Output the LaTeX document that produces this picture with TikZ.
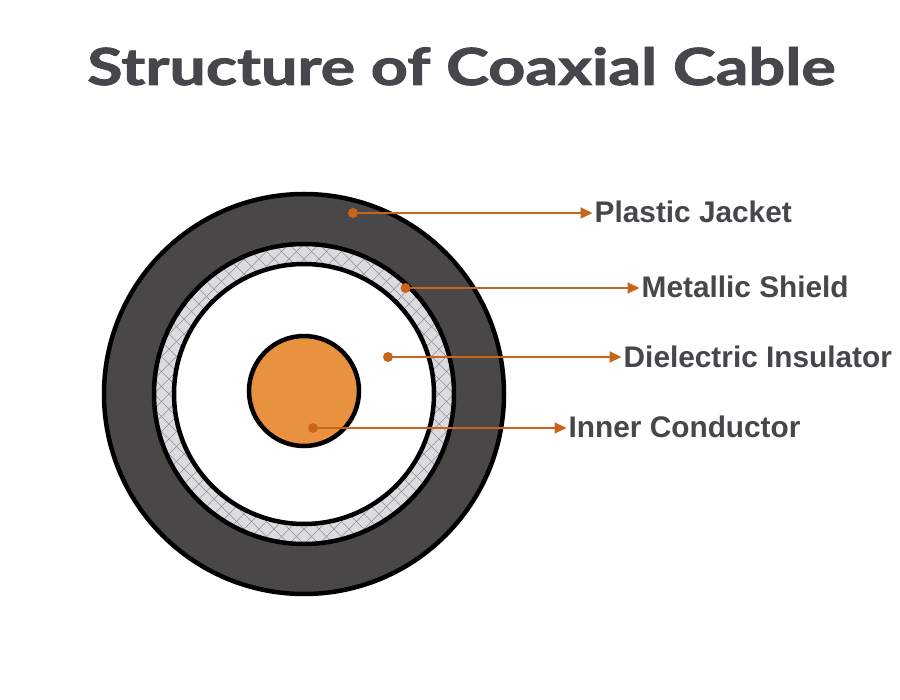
\documentclass[tikz,border=0pt]{standalone}
\usepackage{fontspec}
\usepackage{graphicx}
\setmainfont{Liberation Sans}
\newfontfamily\titlefont{Lato}[BoldFeatures={FakeBold=1.6}]
\usetikzlibrary{arrows.meta}
\definecolor{jacket}{HTML}{4A4748}
\definecolor{shieldfill}{HTML}{DCDBDF}
\definecolor{hatchcol}{HTML}{909095}
\definecolor{copper}{HTML}{E8923F}
\definecolor{pointer}{HTML}{C8651B}
\definecolor{textgray}{HTML}{47464A}
\tikzset{
  outline/.style={draw=black, line width=4.5pt},
  hatchline/.style={draw=hatchcol, line width=0.45pt},
  label/.style={anchor=base west, inner sep=0pt, text=textgray,
    font=\fontsize{29.8}{31}\selectfont\bfseries},
  pointerdot/.style={fill=pointer},
  leader/.style={draw=pointer, line width=2pt,
    -{Triangle[length=12pt,width=11pt]}, shorten >=2pt},
}
\begin{document}
\begin{tikzpicture}[x=1pt,y=-1pt]
\useasboundingbox[fill=white] (0,0) rectangle (900,700);
% title
\node[anchor=base west, inner sep=0pt, text=textgray] (title) at (87,85)
  {\resizebox{748pt}{38pt}{\titlefont\bfseries Structure of Coaxial Cable}};
% cable
\coordinate (C) at (304,394);
\coordinate (Ccore) at (304,391);
\fill[jacket] (C) circle[radius=200pt];
\fill[shieldfill] (C) circle[radius=150pt];
\begin{scope}
  \clip (C) circle[radius=150pt];
  \foreach \k in {-30,...,30} {
    \draw[hatchline] ({304+\k*15-220},174) -- ++(440,440);
    \draw[hatchline] ({304+\k*15+220},174) -- ++(-440,440);
  }
\end{scope}
\fill[white] (C) circle[radius=130pt];
\draw[outline] (C) circle[radius=200pt];
\draw[outline] (C) circle[radius=150pt];
\draw[outline] (C) circle[radius=130pt];
\draw[outline, fill=copper] (Ccore) circle[radius=55pt];
% pointer dots
\coordinate (pj) at (353,213);
\coordinate (ms) at (405.5,288);
\coordinate (di) at (388,357);
\coordinate (ic) at (313,428);
\foreach \p in {pj,ms,di,ic} \fill[pointerdot] (\p) circle[radius=5pt];
% labels
\node[label] (lpj) at (594.5,222.5) {Plastic Jacket};
\node[label] (lms) at (641.5,298) {Metallic Shield};
\node[label] (ldi) at (623.5,367.5) {Dielectric Insulator};
\node[label] (lic) at (568.5,438) {Inner Conductor};
% leaders
\draw[leader] (pj) -- (pj -| lpj.west);
\draw[leader] (ms) -- (ms -| lms.west);
\draw[leader] (di) -- (di -| ldi.west);
\draw[leader] (ic) -- (ic -| lic.west);
\end{tikzpicture}
\end{document}
